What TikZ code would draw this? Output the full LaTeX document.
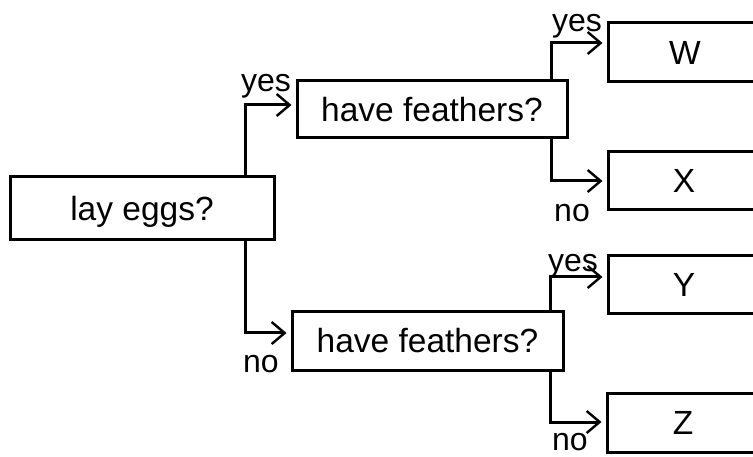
\documentclass[tikz,border=0pt]{standalone}
\usepackage{fontspec}
\setmainfont{Liberation Sans}
\usetikzlibrary{arrows.meta}
\tikzset{
  qbox/.style={draw, line width=3pt, rectangle, inner sep=0pt, text depth=0pt, text height=23.5pt,
    font=\fontsize{33.5}{40}\selectfont},
  lbl/.style={inner sep=0pt, anchor=base, font=\fontsize{32}{38}\selectfont},
  conn/.style={line width=3pt, -{Straight Barb[length=13pt,width=22pt,line width=2.4pt]}, shorten >=4pt},
}
\begin{document}
\begin{tikzpicture}[x=1pt,y=-1pt]
\useasboundingbox (0,0) rectangle (753,457);
\clip (0,0) rectangle (753,457);
\fill[white] (0,0) rectangle (753,457);
% nodes
\node[qbox, minimum width=264pt, minimum height=63pt] (le) at (142,208.5) {lay eggs?};
\node[qbox, minimum width=270pt, minimum height=57pt] (hf1) at (432,109.5) {have feathers?};
\node[qbox, minimum width=271pt, minimum height=58pt] (hf2) at (427.5,341) {have feathers?};
\node[qbox, minimum width=154pt, minimum height=59pt] (w) at (685,52.5) {W};
\node[qbox, minimum width=152pt, minimum height=58pt] (x) at (684,181) {X};
\node[qbox, minimum width=152pt, minimum height=58pt] (y) at (684,285) {Y};
\node[qbox, minimum width=152pt, minimum height=59pt] (z) at (683,422.5) {Z};
% connectors
\draw[conn] (le.north -| 245,0) |- ([yshift=4.5pt]hf1.west);
\draw[conn] (le.south -| 245,0) |- ([yshift=8pt]hf2.west);
\draw[conn] (hf1.north -| 551,0) |- ([yshift=9.5pt]w.west);
\draw[conn] (hf1.south -| 551,0) |- (x.west);
\draw[conn] (hf2.north -| 550,0) |- ([yshift=8pt]y.west);
\draw[conn] (hf2.south -| 550,0) |- ([yshift=0.5pt]z.west);
% labels
\node[lbl] (l1) at (266,92) {yes};
\node[lbl] (l2) at (261,372) {no};
\node[lbl] (l3) at (577,32) {yes};
\node[lbl] (l4) at (572,222) {no};
\node[lbl] (l5) at (573,272) {yes};
\node[lbl] (l6) at (570,450) {no};
\end{tikzpicture}
\end{document}
